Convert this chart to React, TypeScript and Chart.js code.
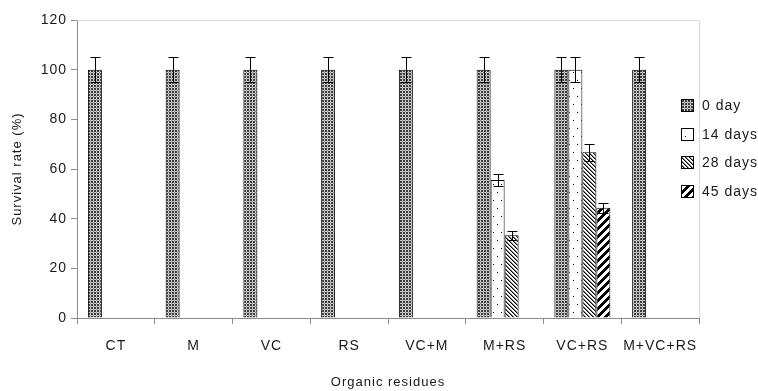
import React, { useEffect, useRef } from 'react';
import { Chart, registerables } from 'chart.js';

Chart.register(...registerables);

// ---- data ----
const categories = ['CT', 'M', 'VC', 'RS', 'VC+M', 'M+RS', 'VC+RS', 'M+VC+RS'];
const seriesLabels = ['0 day', '14 days', '28 days', '45 days'];
const day0 = [100, 100, 100, 100, 100, 100, 100, 100];
const day14 = [null, null, null, null, null, 55.6, 100, null];
const day28 = [null, null, null, null, null, 33.3, 66.7, null];
const day45 = [null, null, null, null, null, null, 44.4, null];
const err0 = [5, 5, 5, 5, 5, 5, 5, 5];
const err14 = [null, null, null, null, null, 2.5, 5, null];
const err28 = [null, null, null, null, null, 1.7, 3.4, null];
const err45 = [null, null, null, null, null, null, 2, null];
const yMin = 0;
const yMax = 120;
const yStep = 20;
const xTitle = 'Organic residues';
const yTitle = 'Survival rate (%)';

const FONT = '"Liberation Sans", Arial, sans-serif';
const TEXT = '#1a1a1a';

function makePattern(ctx: CanvasRenderingContext2D, w: number, h: number, bg: string, fn: (x: number, y: number) => string | null) {
  const c = document.createElement('canvas');
  c.width = w;
  c.height = h;
  const g = c.getContext('2d')!;
  g.fillStyle = bg;
  g.fillRect(0, 0, w, h);
  for (let y = 0; y < h; y++) {
    for (let x = 0; x < w; x++) {
      const col = fn(x, y);
      if (col) {
        g.fillStyle = col;
        g.fillRect(x, y, 1, 1);
      }
    }
  }
  return ctx.createPattern(c, 'repeat')!;
}

export default function App() {
  const ref = useRef<HTMLCanvasElement>(null);

  useEffect(() => {
    const canvas = ref.current!;
    const ctx = canvas.getContext('2d')!;
    const patterns = [
      makePattern(ctx, 3, 3, '#cfcfcf', (x, y) => (x > 0 && y > 0 ? '#3a3a3a' : x === 0 && y === 0 ? '#9a9a9a' : null)),
      makePattern(ctx, 8, 16, '#ffffff', (x, y) => ((x === 1 && y === 0) || (x === 5 && y === 8) ? '#000000' : null)),
      makePattern(ctx, 4, 4, '#ffffff', (x, y) => {
        const d = (((x - y) % 4) + 4) % 4;
        return d === 0 ? '#000000' : d === 1 ? '#808080' : null;
      }),
      makePattern(ctx, 8, 8, '#ffffff', (x, y) => ((x + y) % 8 < 4 ? '#000000' : null)),
    ];
    const values = [day0, day14, day28, day45];
    const errors = [err0, err14, err28, err45];

    const spacing = {
      id: 'spacing',
      beforeDraw(chart: any) {
        chart.ctx.letterSpacing = '1px';
      },
    };

    const frame = {
      id: 'frame',
      beforeDatasetsDraw(chart: any) {
        const { ctx: c, chartArea: a } = chart;
        c.save();
        c.strokeStyle = '#d9d9d9';
        c.lineWidth = 1;
        c.beginPath();
        c.moveTo(a.left, Math.round(a.top) + 0.5);
        c.lineTo(Math.round(a.right) + 0.5, Math.round(a.top) + 0.5);
        c.lineTo(Math.round(a.right) + 0.5, a.bottom);
        c.stroke();
        c.restore();
      },
    };

    const errorBars = {
      id: 'errorBars',
      afterDatasetsDraw(chart: any) {
        const c = chart.ctx;
        const ys = chart.scales.y;
        c.save();
        c.strokeStyle = '#000';
        c.lineWidth = 1;
        chart.data.datasets.forEach((ds: any, di: number) => {
          const meta = chart.getDatasetMeta(di);
          meta.data.forEach((el: any, i: number) => {
            const v = ds.data[i];
            const e = errors[di][i];
            if (v == null || e == null) return;
            const x = Math.round(el.x) + 0.5;
            const yt = Math.round(ys.getPixelForValue(v + e)) + 0.5;
            const yb = Math.round(ys.getPixelForValue(v - e)) + 0.5;
            c.beginPath();
            c.moveTo(x, yt);
            c.lineTo(x, yb);
            c.moveTo(x - 5, yt);
            c.lineTo(x + 5, yt);
            c.moveTo(x - 5, yb);
            c.lineTo(x + 5, yb);
            c.stroke();
          });
        });
        c.restore();
      },
    };

    const legendBox = {
      id: 'legendBox',
      afterDraw(chart: any) {
        const c = chart.ctx;
        c.save();
        c.font = `14px ${FONT}`;
        c.textBaseline = 'middle';
        c.textAlign = 'left';
        seriesLabels.forEach((lab, i) => {
          const cy = 105 + i * 28.7;
          const top = Math.round(cy - 6);
          c.fillStyle = patterns[i];
          c.fillRect(681, top, 13, 13);
          c.strokeStyle = '#000';
          c.lineWidth = 1;
          c.strokeRect(681.5, top + 0.5, 12, 12);
          c.fillStyle = TEXT;
          c.fillText(lab, 702, cy + 1);
        });
        c.restore();
      },
    };

    const chart = new Chart(canvas, {
      type: 'bar',
      data: {
        labels: categories,
        datasets: values.map((d, i) => ({
          label: seriesLabels[i],
          data: d,
          backgroundColor: patterns[i],
          borderColor: '#000',
          borderWidth: 1,
          categoryPercentage: 0.72,
          barPercentage: 1,
        })),
      },
      options: {
        animation: false,
        responsive: true,
        maintainAspectRatio: false,
        devicePixelRatio: 1,
        layout: { padding: { left: 0, top: 20, right: 59, bottom: 0 } },
        plugins: {
          legend: { display: false },
          tooltip: { enabled: false },
        },
        scales: {
          x: {
            grid: { display: true, drawOnChartArea: false, drawTicks: true, tickLength: 6, color: '#8c8c8c', offset: true },
            border: { display: true, color: '#8c8c8c', width: 1 },
            ticks: { color: TEXT, font: { family: FONT, size: 14 }, padding: 14, maxRotation: 0, autoSkip: false },
            title: { display: true, text: xTitle, color: TEXT, font: { family: FONT, size: 13 }, padding: { top: 0, bottom: 1 } },
            afterFit(s: any) {
              s.height = 73;
            },
          },
          y: {
            min: yMin,
            max: yMax,
            grid: { display: true, drawOnChartArea: false, drawTicks: true, tickLength: 6, color: '#8c8c8c' },
            border: { display: true, color: '#8c8c8c', width: 1 },
            ticks: { stepSize: yStep, color: TEXT, font: { family: FONT, size: 14 }, padding: 4 },
            title: { display: true, text: yTitle, color: TEXT, font: { family: FONT, size: 13 }, padding: { top: 10, bottom: 0 } },
            afterFit(s: any) {
              s.width = 77;
            },
          },
        },
      },
      plugins: [spacing, frame, errorBars, legendBox],
    } as any);
    return () => chart.destroy();
  }, []);

  return (
    <div style={{ position: 'fixed', left: 0, top: 0, width: 758, height: 391, background: '#fff' }}>
      <canvas ref={ref} />
    </div>
  );
}
